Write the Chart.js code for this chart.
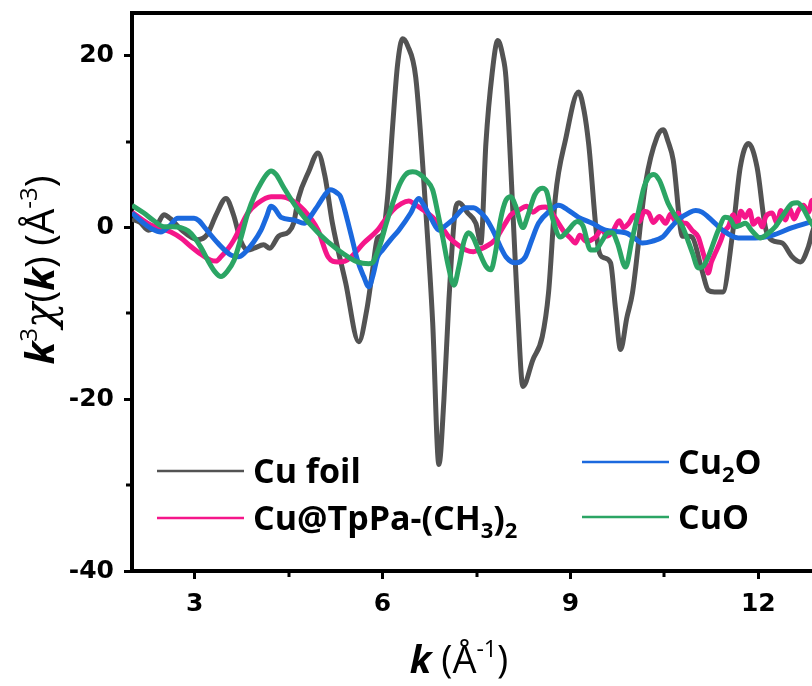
<!DOCTYPE html>
<html>
<head>
<meta charset="utf-8">
<title>k3χ(k) oscillations</title>
<script src="https://cdn.jsdelivr.net/npm/chart.js@4.4.1/dist/chart.umd.min.js"></script>
<style>
  html, body { margin: 0; padding: 0; background: #fff; overflow: hidden; }
  #wrap { width: 830px; height: 686px; }
</style>
</head>
<body>
<div id="wrap"><canvas id="exafsChart" width="830" height="686"></canvas></div>
<script>
// k (Å^-1) and k3·χ(k) (Å^-3) for each sample
const foilK = [2.0, 2.13, 2.26, 2.4, 2.51, 2.62, 2.78, 3.05, 3.2, 3.35, 3.5, 3.62, 3.74, 3.85, 3.95, 4.1, 4.2, 4.34, 4.5, 4.58,
  4.66, 4.82, 4.97, 5.08, 5.2, 5.41, 5.62, 5.75, 5.84, 5.92, 6.0, 6.08, 6.16, 6.24, 6.32, 6.4, 6.53, 6.69, 6.8, 6.9,
  6.98, 7.06, 7.17, 7.22, 7.36, 7.49, 7.57, 7.65, 7.75, 7.84, 7.92, 7.97, 8.08, 8.16, 8.24, 8.4, 8.55, 8.65, 8.76, 8.92,
  9.13, 9.22, 9.29, 9.45, 9.53, 9.64, 9.72, 9.8, 9.9, 9.99, 10.2, 10.38, 10.48, 10.56, 10.64, 10.79, 10.88, 10.94, 11.1, 11.2,
  11.3, 11.43, 11.59, 11.71, 11.84, 11.98, 12.11, 12.22, 12.38, 12.54, 12.67, 12.8, 12.86, 12.95];
const foilChi = [1.0, 0.6, -0.3, 0.3, 1.5, 1.0, -0.2, -1.4, -0.8, 1.6, 3.4, 1.5, -1.6, -2.6, -2.4, -2.0, -2.4, -1.0, -0.5, 0.5,
  3.5, 6.5, 8.7, 6.0, 0.5, -6.4, -13.3, -9.5, -5.0, -1.2, -0.8, 3.5, 11.7, 19.0, 22.0, 21.2, 17.5, 2.0, -11.0, -27.6,
  -20.0, -8.4, 2.4, 2.9, 1.7, 0.5, -1.8, 9.8, 18.0, 21.8, 20.0, 17.5, 2.0, -10.0, -18.5, -15.4, -12.7, -7.6, 3.6, 10.2,
  15.8, 13.5, 9.8, -2.6, -3.5, -4.1, -9.5, -14.2, -10.5, -7.6, 5.2, 10.5, 11.4, 10.0, 7.9, -1.0, -1.0, -1.1, -5.0, -7.3,
  -7.5, -7.5, -0.6, 7.0, 9.8, 7.0, 0.1, -1.5, -1.8, -3.4, -4.0, -2.2, -0.6, 1.5];

const tppaK = [2.0, 2.15, 2.3, 2.46, 2.62, 2.78, 2.94, 3.1, 3.26, 3.34, 3.42, 3.53, 3.63, 3.74, 3.85, 4.0, 4.22, 4.38, 4.55, 4.75,
  4.97, 5.13, 5.29, 5.4, 5.5, 5.7, 5.92, 6.0, 6.16, 6.3, 6.42, 6.5, 6.58, 6.8, 6.95, 7.06, 7.2, 7.33, 7.45, 7.53,
  7.65, 7.8, 7.96, 8.05, 8.17, 8.3, 8.4, 8.5, 8.6, 8.68, 8.75, 8.81, 8.9, 9.0, 9.08, 9.15, 9.25, 9.4, 9.5, 9.58,
  9.67, 9.78, 9.85, 9.93, 10.02, 10.1, 10.18, 10.25, 10.32, 10.42, 10.52, 10.6, 10.67, 10.72, 10.79, 10.84, 10.94, 11.04, 11.1, 11.15,
  11.2, 11.25, 11.31, 11.4, 11.45, 11.52, 11.6, 11.66, 11.72, 11.79, 11.86, 11.92, 12.0, 12.06, 12.12, 12.22, 12.3, 12.36, 12.43, 12.5,
  12.57, 12.64, 12.72, 12.8, 12.86, 12.95];
const tppaChi = [1.8, 1.0, 0.3, -0.1, -0.5, -1.2, -2.2, -3.1, -3.8, -3.9, -3.4, -2.5, -1.4, 0.2, 1.7, 2.8, 3.6, 3.6, 3.2, 2.0,
  -0.3, -3.4, -4.0, -3.9, -3.4, -1.8, -0.3, 0.5, 2.0, 2.8, 3.1, 2.8, 2.4, 1.2, 0.0, -1.1, -2.0, -2.6, -2.8, -2.6,
  -2.2, -1.4, 0.5, 1.5, 2.0, 2.5, 1.8, 2.3, 2.4, 2.0, 1.2, 0.5, -0.5, -1.2, -1.8, -0.9, -1.6, -1.1, -0.2, -1.0,
  -0.5, 0.8, 0.0, 0.5, 1.4, 0.7, 1.9, 1.7, 0.6, 1.3, 0.5, 1.6, 0.8, 1.7, 0.5, 0.5, -0.3, -1.1, -2.5, -3.8,
  -5.3, -4.0, -3.0, -1.5, -0.5, 0.1, 1.5, 0.3, 1.9, 1.2, 2.0, 0.4, 1.0, 0.1, 1.3, 1.7, 0.5, 2.0, 0.9, 2.2,
  1.0, 2.0, 2.6, 1.8, 3.2, 2.8];

const cu2oK = [2.0, 2.19, 2.33, 2.46, 2.6, 2.73, 2.99, 3.07, 3.15, 3.37, 3.58, 3.7, 3.79, 3.93, 4.06, 4.15, 4.22, 4.28, 4.38, 4.58,
  4.75, 4.85, 4.97, 5.1, 5.17, 5.28, 5.33, 5.49, 5.6, 5.7, 5.78, 5.85, 5.92, 6.0, 6.13, 6.26, 6.45, 6.58, 6.65, 6.78,
  6.9, 7.0, 7.12, 7.33, 7.45, 7.53, 7.65, 7.76, 7.88, 7.97, 8.12, 8.28, 8.38, 8.49, 8.68, 8.81, 8.95, 9.13, 9.35, 9.56,
  9.88, 10.0, 10.15, 10.3, 10.47, 10.6, 10.72, 10.91, 11.0, 11.1, 11.25, 11.43, 11.68, 11.95, 12.22, 12.54, 12.86, 12.95];
const cu2oChi = [1.7, 0.5, -0.2, -0.5, 0.2, 1.1, 1.1, 0.8, 0.1, -1.8, -3.2, -3.4, -3.0, -1.8, -0.3, 1.3, 2.5, 2.2, 1.2, 0.9,
  0.5, 1.3, 2.6, 4.0, 4.4, 4.0, 3.6, -0.6, -3.8, -5.7, -6.9, -5.5, -3.4, -2.6, -1.4, -0.3, 1.7, 3.4, 2.7, 1.0,
  -0.3, 0.2, 0.9, 2.3, 2.3, 2.0, 1.1, -0.3, -2.2, -3.4, -4.1, -3.4, -1.5, 0.5, 2.0, 2.6, 2.1, 1.2, 0.5, -0.3,
  -0.6, -1.1, -1.8, -1.6, -1.1, 0.0, 0.9, 1.8, 2.0, 1.8, 0.9, -0.3, -1.2, -1.2, -0.9, 0.0, 0.7, 0.9];

const cuoK = [2.0, 2.19, 2.35, 2.51, 2.65, 2.78, 2.9, 2.99, 3.1, 3.21, 3.32, 3.42, 3.52, 3.63, 3.74, 3.85, 3.96, 4.06, 4.15, 4.22,
  4.3, 4.42, 4.65, 4.97, 5.29, 5.6, 5.78, 5.84, 5.92, 5.97, 6.06, 6.16, 6.27, 6.37, 6.48, 6.58, 6.7, 6.8, 6.88, 6.96,
  7.05, 7.14, 7.22, 7.3, 7.37, 7.45, 7.53, 7.65, 7.73, 7.8, 7.88, 7.97, 8.05, 8.12, 8.24, 8.32, 8.43, 8.55, 8.62, 8.71,
  8.84, 8.95, 9.11, 9.2, 9.32, 9.4, 9.5, 9.6, 9.67, 9.75, 9.88, 9.98, 10.09, 10.17, 10.25, 10.33, 10.42, 10.56, 10.67, 10.79,
  10.88, 10.95, 11.04, 11.12, 11.2, 11.36, 11.47, 11.55, 11.63, 11.72, 11.79, 11.9, 12.03, 12.15, 12.27, 12.4, 12.54, 12.62, 12.7, 12.83,
  12.95];
const cuoChi = [2.6, 1.7, 0.8, 0.1, 0.1, 0.0, -0.4, -1.1, -2.3, -3.8, -5.1, -5.7, -5.1, -3.8, -1.2, 1.7, 3.8, 5.2, 6.2, 6.6,
  6.2, 4.7, 2.1, -0.6, -2.6, -4.0, -4.2, -4.1, -2.8, -1.8, 0.5, 2.8, 5.0, 6.2, 6.5, 6.3, 5.5, 4.4, 1.8, -1.1,
  -4.5, -6.7, -4.5, -1.6, -0.6, -1.2, -2.6, -4.5, -4.9, -3.0, 0.8, 3.2, 3.6, 2.6, 0.0, 1.4, 3.8, 4.6, 4.2, 1.2,
  -1.1, -0.4, 0.7, 0.2, -2.6, -2.6, -1.6, -0.6, -0.6, -1.8, -4.6, -1.5, 2.0, 4.6, 5.9, 6.2, 5.5, 2.8, 1.4, 0.1,
  -1.6, -3.0, -4.7, -4.5, -3.4, -0.3, 1.2, 1.0, 0.1, 0.3, 0.5, -0.4, -1.2, -0.7, 0.1, 1.5, 2.8, 2.9, 2.4, 0.7,
  -0.5];

const seriesNames = ["Cu foil", "Cu@TpPa-(CH3)2", "Cu2O", "CuO"];
const seriesColors = ["#535353", "#f5168a", "#1b69de", "#2ba564"];

const kMajorTicks = [3, 6, 9, 12];
const kMinorTicks = [4.5, 7.5, 10.5];
const chiMajorTicks = [-40, -20, 0, 20];
const chiMinorTicks = [-30, -10, 10];

const toPoints = (ks, vs) => ks.map((k, i) => ({ x: k, y: vs[i] }));

const TICK_FONT = { family: "DejaVu Sans", size: 25, weight: "bold" };

// draws a run of text pieces, each with its own font and vertical shift
function drawRuns(ctx, runs, x, y) {
  let cx = x;
  runs.forEach((r) => {
    ctx.font = r.font;
    ctx.fillText(r.text, cx, y + (r.dy || 0));
    cx += ctx.measureText(r.text).width;
  });
}

function runsWidth(ctx, runs) {
  return runs.reduce((w, r) => {
    ctx.font = r.font;
    return w + ctx.measureText(r.text).width;
  }, 0);
}

// digits in chemical formulas become subscripts
function formulaRuns(label) {
  const main = 'bold 34px "Open Sans"';
  const sub = 'bold 22px "Open Sans"';
  return label.split(/(\d+)/).filter((s) => s).map((s) =>
    /^\d+$/.test(s) ? { text: s, font: sub, dy: 8 } : { text: s, font: main });
}

// axis title pieces: italic bold k, superscript exponents
function titleFonts(size) {
  return {
    reg: `${size}px "Open Sans"`,
    kFont: `italic bold ${size}px "Open Sans"`,
    sup: `${Math.round(size * 0.6)}px "Open Sans"`,
    chi: `italic ${size + 2}px "DejaVu Serif"`,
    lift: -Math.round(size * 0.42),
  };
}
const xf = titleFonts(38);
const yf = titleFonts(40);

const xTitleRuns = [
  { text: "k", font: xf.kFont },
  { text: " (Å", font: xf.reg },
  { text: "-1", font: xf.sup, dy: xf.lift },
  { text: ")", font: xf.reg },
];
const yTitleRuns = [
  { text: "k", font: yf.kFont },
  { text: "3", font: yf.sup, dy: yf.lift },
  { text: "χ", font: yf.chi },
  { text: "(", font: yf.reg },
  { text: "k", font: yf.kFont },
  { text: ") (Å", font: yf.reg },
  { text: "-3", font: yf.sup, dy: yf.lift },
  { text: ")", font: yf.reg },
];

const framePlugin = {
  id: "frameAndLabels",
  afterDraw(chart) {
    const { ctx, chartArea: a, scales } = chart;
    ctx.save();
    // top and right frame
    ctx.strokeStyle = "#000";
    ctx.lineWidth = 4;
    ctx.beginPath();
    ctx.moveTo(a.left - 2, a.top);
    ctx.lineTo(a.right, a.top);
    ctx.lineTo(a.right, a.bottom);
    ctx.stroke();

    // minor ticks
    ctx.lineWidth = 3;
    ctx.beginPath();
    kMinorTicks.forEach((v) => {
      const px = Math.round(scales.x.getPixelForValue(v));
      ctx.moveTo(px, a.bottom);
      ctx.lineTo(px, a.bottom + 6);
    });
    chiMinorTicks.forEach((v) => {
      const py = Math.round(scales.y.getPixelForValue(v));
      ctx.moveTo(a.left, py);
      ctx.lineTo(a.left - 6, py);
    });
    ctx.stroke();

    // axis titles
    ctx.fillStyle = "#000";
    ctx.textBaseline = "alphabetic";
    ctx.textAlign = "left";
    const xw = runsWidth(ctx, xTitleRuns);
    drawRuns(ctx, xTitleRuns, 459 - xw / 2, 673);

    ctx.save();
    ctx.translate(54, 270);
    ctx.rotate(-Math.PI / 2);
    const yw = runsWidth(ctx, yTitleRuns);
    drawRuns(ctx, yTitleRuns, -yw / 2, 0);
    ctx.restore();

    // legend: two columns, two rows each
    const slots = [
      { x: 157, y: 471, base: 483 },
      { x: 157, y: 518, base: 530 },
      { x: 582, y: 462, base: 474 },
      { x: 582, y: 517, base: 529 },
    ];
    chart.data.datasets.forEach((ds) => {
      const s = slots[ds.legendSlot];
      ctx.strokeStyle = ds.borderColor;
      ctx.lineWidth = 2.5;
      ctx.beginPath();
      ctx.moveTo(s.x, s.y);
      ctx.lineTo(s.x + 87, s.y);
      ctx.stroke();
      ctx.fillStyle = "#000";
      drawRuns(ctx, formulaRuns(ds.label), s.x + 96, s.base);
    });
    ctx.restore();
  },
};

const series = [
  { k: foilK, chi: foilChi, order: 3 },
  { k: tppaK, chi: tppaChi, order: 2 },
  { k: cu2oK, chi: cu2oChi, order: 1 },
  { k: cuoK, chi: cuoChi, order: 0 },
];

// keep tick labels from pushing the plot area inward
function noEdgePadding(scale) {
  scale.paddingTop = 0;
  scale.paddingBottom = 0;
  scale.paddingLeft = 0;
  scale.paddingRight = 0;
}

new Chart(document.getElementById("exafsChart"), {
  type: "line",
  data: {
    datasets: series.map((s, i) => ({
      label: seriesNames[i],
      data: toPoints(s.k, s.chi),
      borderColor: seriesColors[i],
      borderWidth: 5,
      pointRadius: 0,
      fill: false,
      cubicInterpolationMode: "monotone",
      order: s.order,
      legendSlot: i,
    })),
  },
  options: {
    responsive: false,
    animation: false,
    events: [],
    layout: { padding: { top: 13, right: 9, left: 0, bottom: 0 } },
    plugins: { legend: { display: false }, tooltip: { enabled: false } },
    scales: {
      x: {
        type: "linear",
        min: 2,
        max: 13,
        afterFit: (scale) => { scale.height = 686 - 571; noEdgePadding(scale); },
        afterBuildTicks: (scale) => { scale.ticks = kMajorTicks.map((v) => ({ value: v })); },
        ticks: { font: TICK_FONT, color: "#000", padding: 10, maxRotation: 0 },
        grid: { drawOnChartArea: false, tickLength: 8, tickWidth: 3, tickColor: "#000" },
        border: { color: "#000", width: 4 },
      },
      y: {
        type: "linear",
        min: -40,
        max: 25,
        afterFit: (scale) => { scale.width = 132; noEdgePadding(scale); },
        afterBuildTicks: (scale) => { scale.ticks = chiMajorTicks.map((v) => ({ value: v })); },
        ticks: { font: TICK_FONT, color: "#000", padding: 10 },
        grid: { drawOnChartArea: false, tickLength: 8, tickWidth: 3, tickColor: "#000" },
        border: { color: "#000", width: 4 },
      },
    },
  },
  plugins: [framePlugin],
});
</script>
</body>
</html>
